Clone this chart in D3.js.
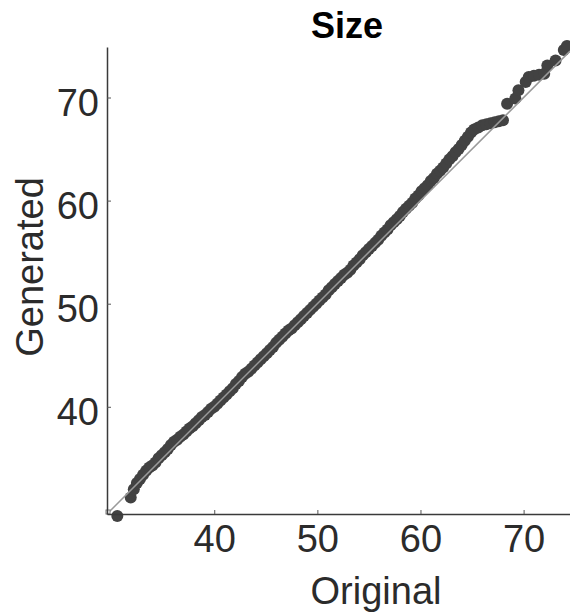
<!DOCTYPE html>
<html>
<head>
<meta charset="utf-8">
<script src="https://cdn.jsdelivr.net/npm/d3@7"></script>
<style>
  body { margin: 0; background: #fff; }
  text { font-family: "Liberation Sans", Arial, sans-serif; }
</style>
</head>
<body>
<script>
// quantiles of the original and generated "Size" values
var original = [30.6, 31.9, 32.2, 32.5, 32.8, 33.1, 33.4, 33.7, 34.0, 34.3, 34.6, 34.9, 35.2, 35.5, 35.8,
  36.1, 36.4, 36.7, 37.0, 37.3, 37.6, 37.9, 38.2, 38.5, 38.8, 39.1, 39.4, 39.7, 40.0, 40.3, 40.6, 40.9,
  41.2, 41.5, 41.8, 42.1, 42.4, 42.7, 43.0, 43.3, 43.6, 43.9, 44.2, 44.5, 44.8, 45.1, 45.4, 45.7, 46.0,
  46.3, 46.6, 46.9, 47.2, 47.5, 47.8, 48.1, 48.4, 48.7, 49.0, 49.3, 49.6, 49.9, 50.2, 50.5, 50.8, 51.1,
  51.4, 51.7, 52.0, 52.3, 52.6, 52.9, 53.2, 53.5, 53.8, 54.1, 54.4, 54.7, 55.0, 55.3, 55.6, 55.9, 56.2,
  56.5, 56.8, 57.1, 57.4, 57.7, 58.0, 58.3, 58.6, 58.9, 59.2, 59.5, 59.8, 60.1, 60.4, 60.7, 61.0, 61.3,
  61.6, 61.9, 62.2, 62.5, 62.8, 63.1, 63.4, 63.7, 64.0, 64.3, 64.6, 64.9, 65.2, 65.6, 66.0, 66.4, 66.8,
  67.2, 67.6, 68.0, 68.4, 69.2, 69.5, 70.2, 70.5, 71.0, 71.5, 72.0, 72.3, 73.1, 73.9, 74.2];

var generated = [29.4, 31.2, 32.0, 32.6, 33.0, 33.4, 33.8, 34.1, 34.3, 34.6, 35.0, 35.3, 35.6, 35.9, 36.3,
  36.6, 36.8, 37.1, 37.3, 37.6, 37.9, 38.1, 38.4, 38.7, 39.0, 39.2, 39.5, 39.8, 40.0, 40.3, 40.6, 40.9,
  41.2, 41.5, 41.8, 42.2, 42.5, 42.9, 43.2, 43.4, 43.7, 44.0, 44.3, 44.6, 44.9, 45.2, 45.5, 45.8, 46.2,
  46.5, 46.8, 47.1, 47.4, 47.6, 47.9, 48.2, 48.5, 48.8, 49.1, 49.4, 49.7, 50.0, 50.3, 50.6, 50.9, 51.3,
  51.6, 51.9, 52.2, 52.5, 52.8, 53.0, 53.3, 53.7, 54.0, 54.3, 54.7, 55.0, 55.3, 55.6, 55.9, 56.2, 56.6,
  56.9, 57.2, 57.6, 57.9, 58.2, 58.5, 58.9, 59.2, 59.5, 59.8, 60.2, 60.5, 60.9, 61.2, 61.5, 61.9, 62.2,
  62.6, 62.9, 63.2, 63.6, 64.0, 64.3, 64.7, 65.0, 65.4, 65.8, 66.2, 66.6, 66.9, 67.1, 67.3, 67.4, 67.5,
  67.6, 67.7, 67.8, 69.4, 69.9, 70.7, 71.5, 72.0, 72.1, 72.2, 72.3, 73.1, 73.6, 74.6, 75.0];

var xTicks = [40, 50, 60, 70];
var yTicks = [40, 50, 60, 70];
var xDomain = [29.6, 74.5];
var yDomain = [29.6, 74.9];

var width = 570,
    height = 614;

var svg = d3.select("body")
    .append("svg")
    .attr("width", width)
    .attr("height", height);

var x = d3.scaleLinear().domain(xDomain).range([107, 570]);
var y = d3.scaleLinear().domain(yDomain).range([514, 47]);

var points = d3.zip(original, generated);

//points first, reference line on top
svg.append("g")
  .selectAll("circle")
  .data(points)
  .enter()
  .append("circle")
  .attr("cx", function(d){ return x(d[0]); })
  .attr("cy", function(d){ return y(d[1]); })
  .attr("r", 6)
  .attr("fill", "#424242");

svg.append("line")
  .attr("x1", x(xDomain[0]))
  .attr("y1", y(xDomain[0]))
  .attr("x2", x(xDomain[1]))
  .attr("y2", y(xDomain[1]))
  .attr("stroke", "#9a9a9a")
  .attr("stroke-width", 1.5);

svg.append("rect")
  .attr("x", x(xDomain[0]) - 1)
  .attr("y", y(xDomain[0]) - 4)
  .attr("width", 4)
  .attr("height", 4)
  .attr("fill", "#fff")
  .attr("stroke", "#777")
  .attr("stroke-width", 1);

//axes
var xAxis = svg.append("g")
  .attr("transform", "translate(0,514)")
  .call(d3.axisBottom(x).tickValues(xTicks).tickSizeInner(-4).tickSizeOuter(0));

var yAxis = svg.append("g")
  .attr("transform", "translate(107,0)")
  .call(d3.axisLeft(y).tickValues(yTicks).tickSizeInner(-4).tickSizeOuter(0));

[xAxis, yAxis].forEach(function(g){
  g.select(".domain").attr("stroke", "#3a3a3a").attr("stroke-width", 1.5);
  g.selectAll(".tick line").attr("stroke", "#555");
  g.selectAll("text")
    .attr("font-family", "Liberation Sans, Arial, sans-serif")
    .attr("font-size", 38)
    .attr("fill", "#2b2b2b");
});

xAxis.selectAll("text").attr("y", 37.5).attr("dy", null);
yAxis.selectAll("text").attr("x", -8).attr("dy", 17.5);

//titles
svg.append("text")
  .attr("x", 347)
  .attr("y", 38)
  .attr("text-anchor", "middle")
  .attr("font-size", 36)
  .attr("font-weight", "bold")
  .attr("fill", "#000")
  .text("Size");

svg.append("text")
  .attr("x", 376)
  .attr("y", 604)
  .attr("text-anchor", "middle")
  .attr("font-size", 38)
  .attr("fill", "#2b2b2b")
  .text("Original");

svg.append("text")
  .attr("transform", "translate(43,267) rotate(-90)")
  .attr("text-anchor", "middle")
  .attr("font-size", 38)
  .attr("fill", "#2b2b2b")
  .text("Generated");
</script>
</body>
</html>
